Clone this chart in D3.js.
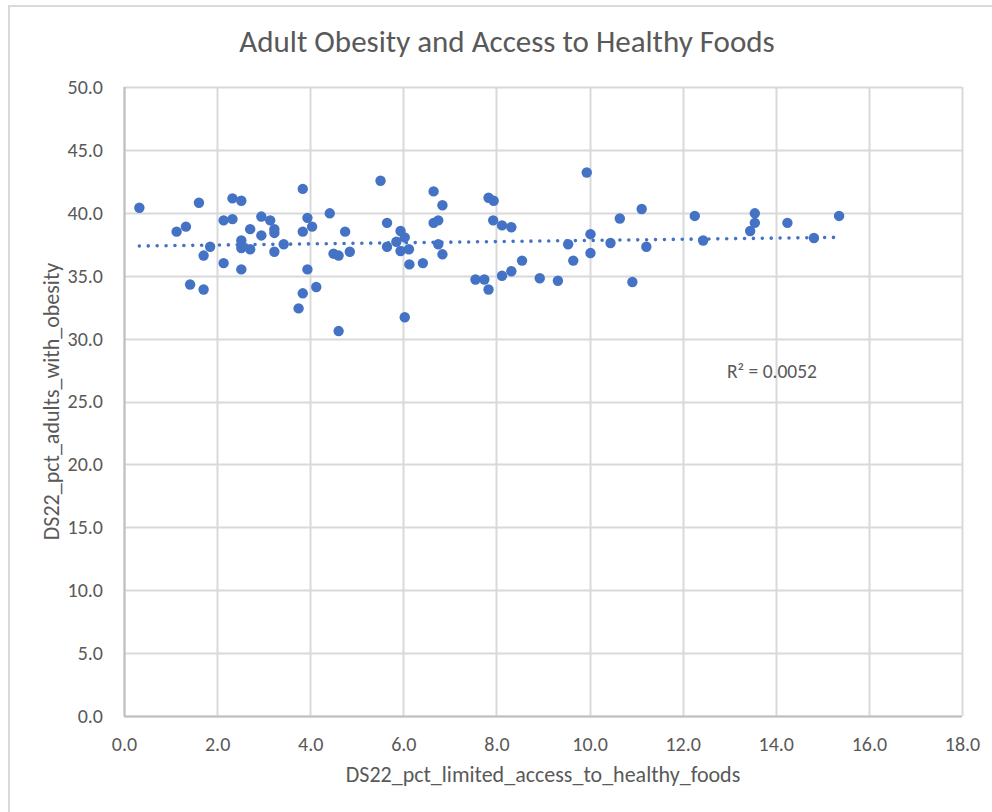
<!DOCTYPE html>
<html>
<head>
<meta charset="utf-8">
<script src="https://cdn.jsdelivr.net/npm/d3@7"></script>
<style>
  html, body { margin: 0; padding: 0; background: #ffffff; }
  svg { display: block; }
  text { font-family: Carlito, Calibri, "Liberation Sans Narrow", "Open Sans", sans-serif; fill: #595959; }
</style>
</head>
<body>
<svg id="chart" width="992" height="812"></svg>
<script>
// ---- data ----
const chartTitle = "Adult Obesity and Access to Healthy Foods";
const xLabel = "DS22_pct_limited_access_to_healthy_foods";
const yLabel = "DS22_pct_adults_with_obesity";
const r2Label = "R² = 0.0052";

const xTicks = [0, 2, 4, 6, 8, 10, 12, 14, 16, 18];
const yTicks = [0, 5, 10, 15, 20, 25, 30, 35, 40, 45, 50];

const limitedAccess = [
  0.33, 1.61, 1.13, 1.33, 1.85, 1.71, 1.42, 1.71, 2.33, 2.52,
  2.14, 2.33, 2.14, 2.52, 2.52, 2.52, 2.71, 2.71, 2.95, 2.95,
  3.14, 3.23, 3.23, 3.23, 3.43, 3.84, 3.94, 4.04, 3.84, 3.94,
  4.13, 3.84, 3.75, 4.42, 4.75, 4.85, 4.50, 4.61, 4.61, 5.51,
  5.65, 5.94, 6.03, 5.85, 5.65, 5.94, 6.12, 6.13, 6.42, 6.03,
  6.65, 6.84, 6.65, 6.75, 6.75, 6.84, 7.55, 7.74, 7.83, 7.83,
  7.94, 7.93, 8.12, 8.32, 8.12, 8.32, 8.55, 8.93, 9.32, 9.54,
  9.65, 9.94, 10.02, 10.02, 10.45, 10.65, 11.12, 11.22, 10.92, 12.26,
  12.44, 13.55, 13.55, 13.45, 14.25, 14.82, 15.36
];
const adultObesity = [
  40.4, 40.8, 38.5, 38.9, 37.3, 36.6, 34.3, 33.9, 41.15, 40.96,
  39.4, 39.5, 36.0, 35.5, 37.8, 37.2, 37.1, 38.7, 39.7, 38.2,
  39.4, 38.7, 38.4, 36.9, 37.5, 41.9, 39.6, 38.9, 38.5, 35.5,
  34.1, 33.6, 32.4, 39.96, 38.5, 36.9, 36.75, 36.6, 30.6, 42.55,
  39.2, 38.55, 38.05, 37.7, 37.3, 36.96, 37.1, 35.9, 36.0, 31.7,
  41.7, 40.6, 39.2, 39.4, 37.5, 36.7, 34.7, 34.7, 33.9, 41.2,
  40.96, 39.4, 39.0, 38.85, 35.0, 35.35, 36.2, 34.8, 34.6, 37.5,
  36.2, 43.2, 38.3, 36.8, 37.6, 39.55, 40.3, 37.3, 34.5, 39.75,
  37.8, 39.96, 39.2, 38.55, 39.2, 38.0, 39.75
];

// linear trendline as shown in the reference (value at x = 0 and slope)
const trendIntercept = 37.345;
const trendSlope = 0.0459;

// ---- layout ----
const FONT = 'Carlito, Calibri, "Liberation Sans Narrow", "Open Sans", sans-serif';
const svg = d3.select("#chart");
const plot = { left: 124, right: 962, top: 87, bottom: 716 };

const x = d3.scaleLinear().domain([0, 18]).range([plot.left, plot.right]);
const y = d3.scaleLinear().domain([0, 50]).range([plot.bottom, plot.top]);

// outer chart border
svg.append("rect")
  .attr("x", 9).attr("y", 6).attr("width", 1000).attr("height", 900)
  .attr("fill", "#ffffff").attr("stroke", "#d9d9d9").attr("stroke-width", 2);

// title
svg.append("text")
  .attr("x", 507).attr("y", 52)
  .attr("text-anchor", "middle")
  .attr("font-size", 31)
  .text(chartTitle);

// gridlines
const g = svg.append("g");
g.selectAll("line.hgrid").data(yTicks).enter().append("line")
  .attr("class", "hgrid")
  .attr("x1", plot.left).attr("x2", plot.right)
  .attr("y1", d => Math.round(y(d)) + 0.5).attr("y2", d => Math.round(y(d)) + 0.5)
  .attr("stroke", "#d9d9d9").attr("stroke-width", 2);
g.selectAll("line.vgrid").data(xTicks).enter().append("line")
  .attr("class", "vgrid")
  .attr("y1", plot.top).attr("y2", plot.bottom)
  .attr("x1", d => Math.round(x(d)) + 0.5).attr("x2", d => Math.round(x(d)) + 0.5)
  .attr("stroke", "#d9d9d9").attr("stroke-width", 2);

// axis lines
g.append("line").attr("x1", plot.left).attr("x2", plot.right)
  .attr("y1", y(0) + 0.5).attr("y2", y(0) + 0.5)
  .attr("stroke", "#bfbfbf").attr("stroke-width", 2);
g.append("line").attr("x1", x(0) + 0.5).attr("x2", x(0) + 0.5)
  .attr("y1", plot.top).attr("y2", plot.bottom)
  .attr("stroke", "#bfbfbf").attr("stroke-width", 2);

// axes (labels only) via d3 axes
const xAxis = d3.axisBottom(x).tickValues(xTicks).tickFormat(d3.format(".1f")).tickSize(0).tickPadding(0);
const yAxis = d3.axisLeft(y).tickValues(yTicks).tickFormat(d3.format(".1f")).tickSize(0).tickPadding(0);

const gx = svg.append("g").attr("transform", `translate(0, ${plot.bottom + 21})`).call(xAxis);
gx.select(".domain").remove();
gx.selectAll("text").attr("font-size", 20).attr("fill", "#595959")
  .attr("font-family", FONT).attr("dy", "0.71em");

const gy = svg.append("g").attr("transform", `translate(${plot.left - 21}, 0)`).call(yAxis);
gy.select(".domain").remove();
gy.selectAll("text").attr("font-size", 20).attr("fill", "#595959")
  .attr("font-family", FONT);

// axis titles
svg.append("text")
  .attr("x", (plot.left + plot.right) / 2).attr("y", 782)
  .attr("text-anchor", "middle").attr("font-size", 22)
  .text(xLabel);
svg.append("text")
  .attr("transform", `translate(59, ${(plot.top + plot.bottom) / 2}) rotate(-90)`)
  .attr("text-anchor", "middle").attr("font-size", 22)
  .text(yLabel);

// points
const pts = limitedAccess.map((v, i) => ({ x: v, y: adultObesity[i] }));
svg.append("g").selectAll("circle").data(pts).enter().append("circle")
  .attr("cx", d => x(d.x)).attr("cy", d => y(d.y))
  .attr("r", 5.2).attr("fill", "#4472C4");

// linear trendline over the x-range of the data
const xExt = d3.extent(pts, d => d.x);
const trend = xExt.map(v => ({ x: v, y: trendIntercept + trendSlope * v }));
svg.append("path")
  .datum(trend)
  .attr("d", d3.line().x(d => x(d.x)).y(d => y(d.y)))
  .attr("fill", "none").attr("stroke", "#4472C4")
  .attr("stroke-width", 3.6).attr("stroke-linecap", "round")
  .attr("stroke-dasharray", "0 8.9");

// R² label
svg.append("text")
  .attr("x", 727).attr("y", 378)
  .attr("font-size", 19.5)
  .text(r2Label);
</script>
</body>
</html>
